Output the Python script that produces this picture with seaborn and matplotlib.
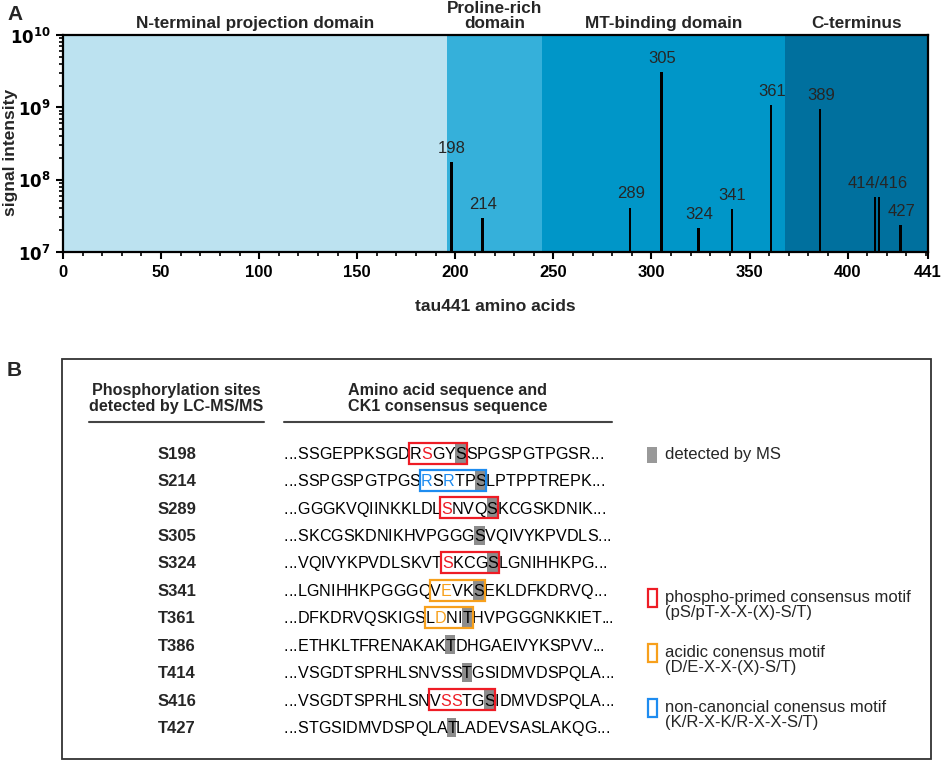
"""Tau phosphorylation sites: MS signal along tau441 (A) and CK1 consensus motifs (B)."""
import matplotlib
matplotlib.use('Agg')
import matplotlib.pyplot as plt
import matplotlib.transforms as mtransforms
from matplotlib.patches import Rectangle
from matplotlib.ticker import MultipleLocator, LogLocator, FixedLocator, NullFormatter
import pandas as pd
import seaborn as sns

# ---- panel A data ----
domain_names = ['N-terminal projection domain', 'Proline-rich\ndomain',
                'MT-binding domain', 'C-terminus']
domain_edges = [0, 196, 244, 368, 441]
domain_colors = ['#BCE2F0', '#35B0DA', '#0096C8', '#00709E']

site_pos = [198, 214, 289, 305, 324, 341, 361, 386, 414, 416, 427]
site_signal = [1.75e8, 2.95e7, 4.1e7, 3.05e9, 2.15e7, 3.9e7, 1.08e9, 9.4e8,
               5.7e7, 5.7e7, 2.35e7]
peak_labels = ['198', '214', '289', '305', '324', '341', '361', '389',
               '414/416', '427']
peak_members = [[0], [1], [2], [3], [4], [5], [6], [7], [8, 9], [10]]

x_ticks = [0, 50, 100, 150, 200, 250, 300, 350, 400, 441]
y_ticks = [1e7, 1e8, 1e9, 1e10]
y_ticklabels = [r'$\mathbf{10^{7}}$', r'$\mathbf{10^{8}}$',
                r'$\mathbf{10^{9}}$', r'$\mathbf{10^{10}}$']

# ---- panel B data ----
row_sites = ['S198', 'S214', 'S289', 'S305', 'S324', 'S341', 'T361', 'T386',
             'T414', 'S416', 'T427']
row_seqs = ['SSGEPPKSGDRSGYSSPGSPGTPGSR',
            'SSPGSPGTPGSRSRTPSLPTPPTREPK',
            'GGGKVQIINKKLDLSNVQSKCGSKDNIK',
            'SKCGSKDNIKHVPGGGSVQIVYKPVDLS',
            'VQIVYKPVDLSKVTSKCGSLGNIHHKPG',
            'LGNIHHKPGGGQVEVKSEKLDFKDRVQ',
            'DFKDRVQSKIGSLDNITHVPGGGNKKIET',
            'ETHKLTFRENAKAKTDHGAEIVYKSPVV',
            'VSGDTSPRHLSNVSSTGSIDMVDSPQLA',
            'VSGDTSPRHLSNVSSTGSIDMVDSPQLA',
            'STGSIDMVDSPQLATLADEVSASLAKQG']
grey_idx = [14, 16, 18, 16, 18, 16, 16, 14, 15, 17, 14]
motif_span = [(10, 14), (11, 16), (14, 18), None, (14, 18), (12, 16), (12, 16),
              None, None, (12, 17), None]
motif_kind = ['primed', 'noncanon', 'primed', None, 'primed', 'acidic', 'acidic',
              None, None, 'primed', None]
colored_idx = [[11], [11, 13], [14], [], [14], [13], [13], [], [], [13, 14], []]

motif_colors = {'primed': '#EE1C25', 'acidic': '#F7A01C', 'noncanon': '#1E8CF0'}
legend_kinds = ['primed', 'acidic', 'noncanon']
legend_text = ['phospho-primed consensus motif\n(pS/pT-X-X-(X)-S/T)',
               'acidic conensus motif\n(D/E-X-X-(X)-S/T)',
               'non-canoncial conensus motif\n(K/R-X-K/R-X-X-S/T)']

sns.set_theme(style='ticks')
plt.rcParams['font.family'] = ['Liberation Sans', 'DejaVu Sans']
plt.rcParams['axes.edgecolor'] = 'black'
plt.rcParams['xtick.color'] = 'black'
plt.rcParams['ytick.color'] = 'black'

fig = plt.figure(figsize=(9.41, 7.62), dpi=100)
ax = fig.add_axes([63 / 941, 1 - 252 / 762, 865 / 941, 217 / 762])

# domain shading
for lo, hi, col in zip(domain_edges[:-1], domain_edges[1:], domain_colors):
    ax.axvspan(lo, hi, color=col, lw=0, zorder=0)

df = pd.DataFrame({'pos': site_pos, 'signal': site_signal})
ax.set_yscale('log')
sns.barplot(data=df, x='pos', y='signal', native_scale=True, width=0.65,
            color='black', linewidth=0, errorbar=None, ax=ax, zorder=3)

ax.set_xlim(0, 441)
ax.set_ylim(1e7, 1e10)
ax.xaxis.set_major_locator(FixedLocator(x_ticks))
ax.set_xticklabels([str(t) for t in x_ticks])
ax.xaxis.set_minor_locator(MultipleLocator(10))
ax.set_yticks(y_ticks)
ax.set_yticklabels(y_ticklabels)
ax.yaxis.set_minor_locator(LogLocator(base=10, subs=range(2, 10)))
ax.yaxis.set_minor_formatter(NullFormatter())
for lab in ax.get_xticklabels():
    lab.set_fontweight('bold')
ax.tick_params(which='major', length=5, width=1.5, labelsize=12, pad=4)
ax.tick_params(which='minor', length=3, width=1.2)
for sp in ax.spines.values():
    sp.set_linewidth(1.6)
    sp.set_zorder(5)

ax.set_xlabel('tau441 amino acids', fontsize=12.5, fontweight='bold')
ax.xaxis.set_label_coords(0.5, -0.218)
ax.set_ylabel('signal intensity', fontsize=12.5, fontweight='bold')
ax.yaxis.set_label_coords(-0.052, 0.46)

for lab, members in zip(peak_labels, peak_members):
    xs = [site_pos[m] for m in members]
    top = max(site_signal[m] for m in members)
    ax.annotate(lab, (sum(xs) / len(xs) + 0.4, top), xytext=(0, 4.5),
                textcoords='offset points', ha='center', va='bottom',
                fontsize=12, zorder=6)

# overlay in figure pixels for titles and panel B
ov = fig.add_axes([0, 0, 1, 1])
ov.set_xlim(0, 941)
ov.set_ylim(762, 0)
ov.set_axis_off()

trans = mtransforms.blended_transform_factory(ax.transData, ov.transData)
for name, lo, hi in zip(domain_names, domain_edges[:-1], domain_edges[1:]):
    ov.text((lo + hi) / 2, 28, name, transform=trans, ha='center', va='baseline',
            fontsize=12.3, fontweight='bold', linespacing=1.0)

ov.text(7, 20, 'A', fontsize=15, fontweight='bold', va='baseline')
ov.text(7, 376, 'B', fontsize=15, fontweight='bold', va='baseline')

# panel B frame and headers
ov.add_patch(Rectangle((62.5, 359), 868.5, 400, fill=False, ec='#333333', lw=1.3))
ov.text(176, 398.5, 'Phosphorylation sites\ndetected by LC-MS/MS', ha='center',
        va='center', fontsize=11.6, fontweight='bold', linespacing=1.0)
ov.text(448, 398.5, 'Amino acid sequence and\nCK1 consensus sequence', ha='center',
        va='center', fontsize=11.6, fontweight='bold', linespacing=1.0)
ov.plot([89, 264], [421.7, 421.7], color='#444444', lw=1.5)
ov.plot([284, 612], [421.7, 421.7], color='#444444', lw=1.5)

renderer = fig.canvas.get_renderer()
SEQ_PT = 11.6


def pen_positions(s):
    """x offset (px) of each character start, plus the end."""
    ref = ov.text(0, 0, '|', fontsize=SEQ_PT)
    w_ref = ref.get_window_extent(renderer).width
    ref.remove()
    out = [0.0]
    for i in range(1, len(s) + 1):
        t = ov.text(0, 0, s[:i] + '|', fontsize=SEQ_PT)
        out.append(t.get_window_extent(renderer).width - w_ref)
        t.remove()
    return out


x0 = 284
for i, site in enumerate(row_sites):
    y = 453 + 27.42 * i
    ov.text(176.7, y + 5.8, site, ha='center', va='baseline', fontsize=12,
            fontweight='bold')
    full = '...' + row_seqs[i] + '...'
    pens = pen_positions(full)
    colors = ['black'] * len(full)
    kind = motif_kind[i]
    for c in colored_idx[i]:
        colors[c + 3] = motif_colors[kind]
    g = grey_idx[i] + 3
    ov.add_patch(Rectangle((x0 + pens[g], y - 9.5), pens[g + 1] - pens[g], 19,
                           fc='#8C8C8C', ec='none', zorder=1))
    if motif_span[i] is not None:
        a, b = motif_span[i]
        left = x0 + pens[a + 3] - 0.5
        right = x0 + pens[b + 4] + 0.5
        ov.add_patch(Rectangle((left, y - 10.5), right - left, 21, fill=False,
                               ec=motif_colors[kind], lw=1.6, zorder=3))
    for j, ch in enumerate(full):
        ov.text(x0 + pens[j], y + 5.8, ch, color=colors[j], fontsize=SEQ_PT,
                ha='left', va='baseline', zorder=2)

# legend
ov.add_patch(Rectangle((647, 447), 10, 16, fc='#999999', ec='none'))
ov.text(665, 455, 'detected by MS', va='center', fontsize=12)
for k, (kind, txt) in enumerate(zip(legend_kinds, legend_text)):
    yb = 598 + 55 * k
    ov.add_patch(Rectangle((648, yb - 9), 9, 18, fill=False,
                           ec=motif_colors[kind], lw=1.6))
    ov.text(665, yb + 7, txt, va='center', fontsize=12, linespacing=0.95)

fig.savefig('out.png', dpi=100)
